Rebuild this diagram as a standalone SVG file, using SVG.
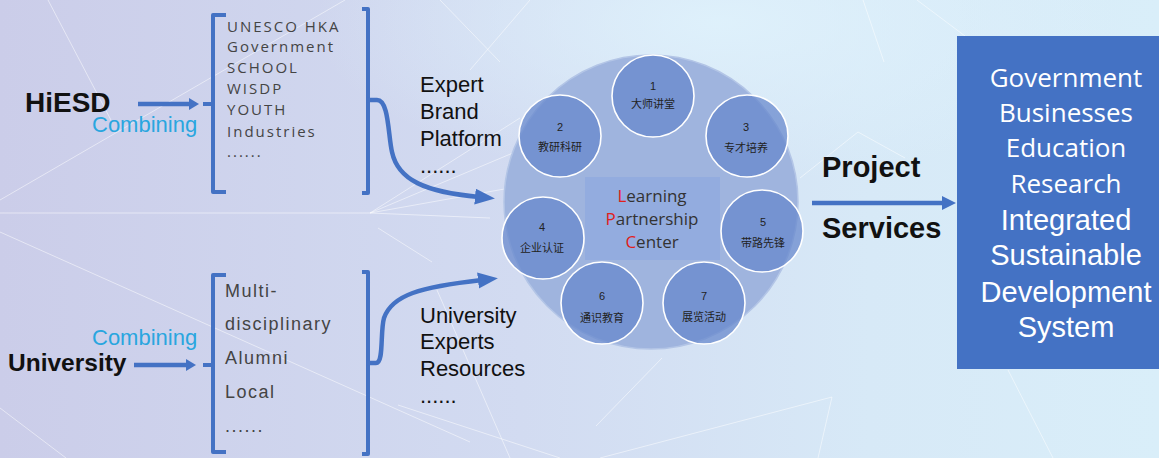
<svg xmlns="http://www.w3.org/2000/svg" width="1159" height="458" viewBox="0 0 1159 458">
  <defs>
    <linearGradient id="bg" x1="0" y1="0" x2="1" y2="0">
      <stop offset="0" stop-color="#cbcde9"/>
      <stop offset="0.45" stop-color="#d2dbf1"/>
      <stop offset="0.75" stop-color="#d7e9f7"/>
      <stop offset="1" stop-color="#d9eef9"/>
    </linearGradient>
    <radialGradient id="glow" cx="0.62" cy="0.05" r="0.35">
      <stop offset="0" stop-color="#dff2fc" stop-opacity="0.9"/>
      <stop offset="1" stop-color="#dff2fc" stop-opacity="0"/>
    </radialGradient>
    <marker id="headBig" markerWidth="22" markerHeight="18" refX="4" refY="8" orient="auto" markerUnits="userSpaceOnUse">
      <path d="M0,0 L20,8 L0,16 Z" fill="#4472c4"/>
    </marker>
    <marker id="headMid" markerWidth="16" markerHeight="16" refX="2" refY="7" orient="auto" markerUnits="userSpaceOnUse">
      <path d="M0,0 L14,7 L0,14 Z" fill="#4472c4"/>
    </marker>
    <marker id="headSmall" markerWidth="12" markerHeight="14" refX="1" refY="6" orient="auto" markerUnits="userSpaceOnUse">
      <path d="M0,0 L10,6 L0,12 Z" fill="#4472c4"/>
    </marker>
    <style>
      .bgline { stroke: #ffffff; stroke-width: 1; stroke-opacity: 0.5; fill: none; }
      .bracket { stroke: #4472c4; stroke-width: 4; fill: none; stroke-linejoin: round; }
      .flow { stroke: #4472c4; stroke-width: 4.5; fill: none; }
      .src { font-family: "Liberation Sans", Arial, sans-serif; font-weight: bold; fill: #111; }
      .combine { font-family: "Liberation Sans", Arial, sans-serif; font-size: 22px; fill: #29a6df; }
      .list1 { font-family: "Open Sans", "Noto Sans", sans-serif; font-size: 15px; letter-spacing: 2px; fill: #444; }
      .list2 { font-family: "Liberation Sans", Arial, sans-serif; font-size: 18px; letter-spacing: 1.5px; fill: #444; }
      .mid { font-family: "Liberation Sans", Arial, sans-serif; font-size: 22px; fill: #111; }
      .bold { font-family: "Liberation Sans", Arial, sans-serif; font-size: 29px; font-weight: bold; fill: #111; }
      .petal { fill: #6587cc; fill-opacity: 0.72; stroke: #ffffff; stroke-width: 1.6; }
      .num { font-family: "Liberation Sans", Arial, sans-serif; font-size: 11px; fill: #222; text-anchor: middle; }
      .cn { font-family: "Noto Sans CJK SC", sans-serif; font-size: 11px; fill: #222; text-anchor: middle; }
      .lpc { font-family: "Open Sans", "Noto Sans", sans-serif; font-size: 17px; fill: #333; text-anchor: middle; }
      .red { fill: #e0201c; }
      .outA { font-family: "Open Sans", "Noto Sans", sans-serif; font-size: 26px; fill: #ffffff; text-anchor: middle; }
      .outB { font-family: "Liberation Sans", Arial, sans-serif; font-size: 29px; fill: #ffffff; text-anchor: middle; }
    </style>
  </defs>

  <!-- backdrop with faint network lines -->
  <rect x="0" y="0" width="1159" height="458" fill="url(#bg)"/>
  <rect x="0" y="0" width="1159" height="458" fill="url(#glow)"/>
  <g id="backdrop-lines">
    <path class="bgline" d="M48,0 L112,122"/>
    <path class="bgline" d="M0,200 L345,0"/>
    <path class="bgline" d="M0,213 L370,213"/>
    <path class="bgline" d="M370,213 L520,118 M370,213 L520,150 M370,213 L510,188 M370,213 L490,218"/>
    <path class="bgline" d="M0,232 L470,442"/>
    <path class="bgline" d="M378,228 L432,262"/>
    <path class="bgline" d="M437,290 L510,458"/>
    <path class="bgline" d="M398,405 L560,458"/>
    <path class="bgline" d="M596,426 L662,358"/>
    <path class="bgline" d="M600,458 L832,397 L818,458"/>
    <path class="bgline" d="M1008,370 L1053,458"/>
    <path class="bgline" d="M863,0 L884,62"/>
    <path class="bgline" d="M917,0 L965,36"/>
    <path class="bgline" d="M0,408 L66,458"/>
    <path class="bgline" d="M440,0 L500,62 M530,0 L470,70"/>
    <path class="bgline" d="M800,178 L858,132 M858,132 L905,158"/>
  </g>

  <!-- HiESD source -->
  <g id="hiesd">
    <text class="src" x="25" y="112" font-size="28">HiESD</text>
    <text class="combine" x="92" y="132">Combining</text>
  </g>

  <!-- University source -->
  <g id="university">
    <text class="combine" x="92" y="345">Combining</text>
    <text class="src" x="8" y="371" font-size="24.5">University</text>
  </g>

  <!-- partner list (upper bracket) -->
  <g id="partners">
    <path class="bracket" d="M226,15 H213 V192 H226 M213,104 H203"/>
    <path class="bracket" d="M362,9 H368 V193 H362"/>
    <text class="list1" x="227" y="32">UNESCO HKA</text>
    <text class="list1" x="227" y="52">Government</text>
    <text class="list1" x="227" y="73">SCHOOL</text>
    <text class="list1" x="227" y="94">WISDP</text>
    <text class="list1" x="227" y="115">YOUTH</text>
    <text class="list1" x="227" y="137">Industries</text>
    <text class="list1" x="227" y="157">......</text>
  </g>

  <!-- university list (lower bracket) -->
  <g id="faculties">
    <path class="bracket" d="M226,275 H213 V452 H226 M213,365 H203"/>
    <path class="bracket" d="M362,272 H368 V454 H362"/>
    <text class="list2" x="225" y="297">Multi-</text>
    <text class="list2" x="225" y="330">disciplinary</text>
    <text class="list2" x="225" y="364">Alumni</text>
    <text class="list2" x="225" y="398">Local</text>
    <text class="list2" x="225" y="432">......</text>
  </g>

  <!-- labels on the two inbound flows -->
  <g id="label-expert">
    <text class="mid" x="420" y="92">Expert</text>
    <text class="mid" x="420" y="119">Brand</text>
    <text class="mid" x="420" y="146">Platform</text>
    <text class="mid" x="420" y="173">......</text>
  </g>
  <g id="label-resources">
    <text class="mid" x="420" y="323">University</text>
    <text class="mid" x="420" y="349">Experts</text>
    <text class="mid" x="420" y="376">Resources</text>
    <text class="mid" x="420" y="403">......</text>
  </g>

  <!-- Learning Partnership Center hub -->
  <g id="lpc-hub">
    <circle cx="651" cy="202" r="147" fill="#9fb4de" stroke="#b3c5e6" stroke-width="1.5"/>
    <rect x="585" y="177" width="135" height="83" fill="#93acdf"/>
    <text class="lpc" x="652" y="202"><tspan class="red">L</tspan>earning</text>
    <text class="lpc" x="652" y="225"><tspan class="red">P</tspan>artnership</text>
    <text class="lpc" x="652" y="248"><tspan class="red">C</tspan>enter</text>
  </g>
  <g id="hub-1">
    <circle class="petal" cx="653" cy="96" r="41"/>
    <text class="num" x="653" y="90">1</text>
    <text class="cn" x="653" y="108">大师讲堂</text>
  </g>
  <g id="hub-2">
    <circle class="petal" cx="560" cy="136" r="41"/>
    <text class="num" x="560" y="131">2</text>
    <text class="cn" x="560" y="151">教研科研</text>
  </g>
  <g id="hub-3">
    <circle class="petal" cx="747" cy="136" r="41"/>
    <text class="num" x="746" y="131">3</text>
    <text class="cn" x="746" y="152">专才培养</text>
  </g>
  <g id="hub-4">
    <circle class="petal" cx="543" cy="238" r="41"/>
    <text class="num" x="542" y="231">4</text>
    <text class="cn" x="542" y="252">企业认证</text>
  </g>
  <g id="hub-5">
    <circle class="petal" cx="762" cy="231" r="41"/>
    <text class="num" x="763" y="226">5</text>
    <text class="cn" x="763" y="247">带路先锋</text>
  </g>
  <g id="hub-6">
    <circle class="petal" cx="602" cy="303" r="41"/>
    <text class="num" x="602" y="300">6</text>
    <text class="cn" x="602" y="322">通识教育</text>
  </g>
  <g id="hub-7">
    <circle class="petal" cx="704" cy="303" r="41"/>
    <text class="num" x="704" y="300">7</text>
    <text class="cn" x="704" y="321">展览活动</text>
  </g>

  <!-- outcome box -->
  <g id="outcomes">
    <rect x="957" y="36" width="202" height="333" fill="#4472c4"/>
    <text class="outA" x="1066" y="87">Government</text>
    <text class="outA" x="1066" y="122">Businesses</text>
    <text class="outA" x="1066" y="157">Education</text>
    <text class="outA" x="1066" y="193">Research</text>
    <text class="outB" x="1066" y="230">Integrated</text>
    <text class="outB" x="1066" y="265">Sustainable</text>
    <text class="outB" x="1066" y="302">Development</text>
    <text class="outB" x="1066" y="337">System</text>
  </g>

  <!-- outbound label -->
  <g id="label-services">
    <text class="bold" x="822" y="177">Project</text>
    <text class="bold" x="822" y="238">Services</text>
  </g>

  <!-- connectors -->
  <g id="connectors">
    <path class="flow" d="M138,104 H190" marker-end="url(#headSmall)"/>
    <path class="flow" d="M134,365 H187" marker-end="url(#headSmall)"/>
    <path class="flow" d="M366,100 H377 C389,100 388,135 392,152 C398,180 425,192 479,197" marker-end="url(#headBig)"/>
    <path class="flow" d="M366,363 H376 C384,363 380,332 384,318 C392,295 420,287 482,280" marker-end="url(#headBig)"/>
    <path class="flow" d="M812,203 H944" stroke-width="5" marker-end="url(#headMid)"/>
  </g>
</svg>
